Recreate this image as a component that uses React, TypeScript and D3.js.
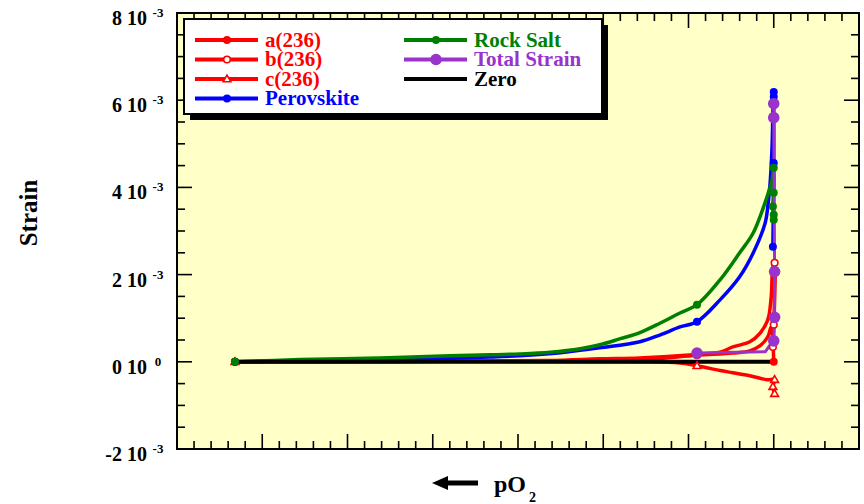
import React from "react";
import * as d3 from "d3";

// Values in units of 1e-3 strain; x in arbitrary pO2-axis units (0..8)
const aX = [0.68, 4.34, 5.43, 6.1, 6.52, 6.72, 6.84, 6.93, 6.97, 7.0];
const aY = [0, 0.02, 0.05, 0.15, 0.2, 0.25, 0.37, 0.57, 0.8, 0.0];
const aMarks = [0, 3, 9];

const bX = [0.68, 4.34, 4.96, 5.43, 6.1, 6.37, 6.52, 6.72, 6.84, 6.93, 6.97, 6.99, 7.01, 7.0, 6.99];
const bY = [0, 0.03, 0.07, 0.09, 0.17, 0.22, 0.34, 0.46, 0.66, 0.96, 1.49, 2.18, 2.27, 0.85, 0.34];
const bMarks = [0, 4, 12, 13, 14];

const cX = [0.68, 5.5, 5.9, 6.1, 6.37, 6.52, 6.72, 6.92, 7.01, 6.99, 7.01];
const cY = [0, 0, -0.03, -0.09, -0.2, -0.25, -0.32, -0.41, -0.41, -0.57, -0.73];
const cMarks = [0, 3, 8, 9, 10];

const pvX = [0.68, 2.97, 3.67, 4.02, 4.5, 4.96, 5.43, 5.67, 5.9, 6.1, 6.37, 6.6, 6.76, 6.9, 6.93, 6.96, 6.98, 6.99, 7.0, 7.0, 7.0, 6.99];
const pvY = [0, 0.07, 0.11, 0.14, 0.21, 0.32, 0.46, 0.62, 0.8, 0.92, 1.42, 1.95, 2.5, 3.19, 3.56, 4.17, 4.93, 5.71, 6.19, 6.08, 4.56, 2.64];
const pvMarks = [0, 9, 18, 19, 20, 21];

const rsX = [0.68, 1.44, 2.38, 3.2, 3.67, 4.02, 4.38, 4.73, 4.96, 5.2, 5.43, 5.67, 5.9, 6.1, 6.37, 6.6, 6.76, 6.92, 6.98, 7.0, 7.0, 6.99, 7.0, 7.0];
const rsY = [0, 0.05, 0.085, 0.14, 0.16, 0.18, 0.22, 0.3, 0.39, 0.53, 0.67, 0.89, 1.12, 1.31, 1.88, 2.5, 2.96, 3.78, 4.17, 4.45, 3.88, 3.56, 3.37, 3.26];
const rsMarks = [0, 13, 19, 20, 21, 22, 23];

const tsX = [6.1, 6.9, 6.98, 7.0, 7.01, 7.01, 7.0, 7.0];
const tsY = [0.2, 0.23, 0.45, 0.48, 1.02, 2.07, 5.6, 5.92];
const tsMarks = [0, 3, 4, 5, 6, 7];

const zeroX = [0.68, 7.0];
const zeroY = [0, 0];

const yMajor = [-2, 0, 2, 4, 6, 8];
const yMant = ["-2", "0", "2", "4", "6", "8"];
const yExp = ["-3", "0", "-3", "-3", "-3", "-3"];

const RED = "#ff0000";
const GREEN = "#008000";
const BLUE = "#0000ff";
const PURPLE = "#9933cc";
const FONT = "'Liberation Serif', 'Times New Roman', serif";

const L = 177, R = 859, T = 13, B = 449;

export default function App() {
  const x = d3.scaleLinear().domain([0, 8]).range([L, R]);
  const y = d3.scaleLinear().domain([-2, 8]).range([B, T]);
  const smooth = d3
    .line<[number, number]>()
    .x((d) => x(d[0]))
    .y((d) => y(d[1]))
    .curve(d3.curveCatmullRom.alpha(0.5));
  const straight = d3.line<[number, number]>().x((d) => x(d[0])).y((d) => y(d[1]));
  const pts = (xs: number[], ys: number[]) => xs.map((v, i) => [v, ys[i]] as [number, number]);

  const series = [
    { key: "a", xs: aX, ys: aY, marks: aMarks, color: RED, w: 3.5, m: "dot", sm: true },
    { key: "b", xs: bX, ys: bY, marks: bMarks, color: RED, w: 3.5, m: "open", sm: true },
    { key: "c", xs: cX, ys: cY, marks: cMarks, color: RED, w: 3.5, m: "tri", sm: true },
    { key: "pv", xs: pvX, ys: pvY, marks: pvMarks, color: BLUE, w: 3.5, m: "dot", sm: true },
    { key: "rs", xs: rsX, ys: rsY, marks: rsMarks, color: GREEN, w: 3.5, m: "dot", sm: true },
    { key: "zero", xs: zeroX, ys: zeroY, marks: [] as number[], color: "#000", w: 4, m: "none", sm: false },
    { key: "ts", xs: tsX, ys: tsY, marks: tsMarks, color: PURPLE, w: 3, m: "big", sm: false },
  ];

  const marker = (kind: string, cx: number, cy: number, color: string, k: string) => {
    if (kind === "dot") return <circle key={k} cx={cx} cy={cy} r={4} fill={color} />;
    if (kind === "big") return <circle key={k} cx={cx} cy={cy} r={5.8} fill={color} />;
    if (kind === "open")
      return <circle key={k} cx={cx} cy={cy} r={3.3} fill="#fff" stroke={color} strokeWidth={1.6} />;
    if (kind === "tri")
      return (
        <path
          key={k}
          d={d3.symbol().type(d3.symbolTriangle).size(26)() || ""}
          transform={`translate(${cx},${cy + 0.5})`}
          fill="#fff"
          stroke={color}
          strokeWidth={1.6}
        />
      );
    return null;
  };

  const yMinor = d3.range(-2, 8.001, 0.5);
  const xMinor = d3.range(0, 8.001, 0.2);
  const xMajor = d3.range(0, 8.001, 1);

  const legendRows = [
    { label: "a(236)", color: RED, m: "dot", col: 0, row: 0 },
    { label: "b(236)", color: RED, m: "open", col: 0, row: 1 },
    { label: "c(236)", color: RED, m: "tri", col: 0, row: 2 },
    { label: "Perovskite", color: BLUE, m: "dot", col: 0, row: 3 },
    { label: "Rock Salt", color: GREEN, m: "dot", col: 1, row: 0 },
    { label: "Total Strain", color: PURPLE, m: "big", col: 1, row: 1 },
    { label: "Zero", color: "#000", m: "none", col: 1, row: 2 },
  ];
  const colX = [195, 404];
  const rowY = [40, 59.5, 79, 98.5];

  return (
    <svg
      width={864}
      height={504}
      style={{ position: "absolute", left: 0, top: 0, background: "#fff" }}
      fontFamily={FONT}
      fontWeight="bold"
    >
      <rect x={L} y={T} width={R - L} height={B - T} fill="#ffffc8" />

      {/* ticks */}
      {yMinor.map((v, i) => {
        const major = Math.abs(v % 2) < 1e-6;
        const len = major ? 15 : 8;
        return (
          <g key={"yt" + i} stroke="#000" strokeWidth={1.6}>
            <line x1={L} x2={L + len} y1={y(v)} y2={y(v)} />
            <line x1={R} x2={R - len} y1={y(v)} y2={y(v)} />
          </g>
        );
      })}
      {xMinor.map((v, i) => {
        const major = xMajor.some((m) => Math.abs(m - v) < 1e-6);
        const len = major ? 15 : 8;
        return (
          <g key={"xt" + i} stroke="#000" strokeWidth={1.6}>
            <line x1={x(v)} x2={x(v)} y1={B} y2={B - len} />
            <line x1={x(v)} x2={x(v)} y1={T} y2={T + len} />
          </g>
        );
      })}

      {/* lines */}
      {series.map((s) => (
        <path
          key={"l" + s.key}
          d={(s.sm ? smooth : straight)(pts(s.xs, s.ys)) || ""}
          fill="none"
          stroke={s.color}
          strokeWidth={s.w}
          strokeLinejoin="round"
          strokeLinecap="round"
        />
      ))}
      {/* markers */}
      {series.map((s) =>
        s.marks.map((i) => marker(s.m, x(s.xs[i]), y(s.ys[i]), s.color, s.key + "m" + i))
      )}

      <rect x={L} y={T} width={R - L} height={B - T} fill="none" stroke="#000" strokeWidth={2} />

      {/* legend */}
      <rect x={190} y={25} width={418} height={95} fill="#000" />
      <rect x={184} y={19} width={418} height={95} fill="#fff" stroke="#000" strokeWidth={2} />
      {legendRows.map((r, i) => {
        const x0 = colX[r.col];
        const yy = rowY[r.row];
        return (
          <g key={"lg" + i}>
            <line x1={x0} x2={x0 + 63} y1={yy} y2={yy} stroke={r.color} strokeWidth={4} />
            {marker(r.m, x0 + 32, yy, r.color, "lm" + i)}
            <text x={x0 + 70} y={yy + 6.5} fontSize={21} fill={r.color}>
              {r.label}
            </text>
          </g>
        );
      })}

      {/* y tick labels */}
      {yMajor.map((v, i) => (
        <g key={"yl" + i}>
          <text x={147} y={y(v) + 12} fontSize={20} textAnchor="end" fill="#000">
            {yMant[i]} 10
          </text>
          <text x={158} y={y(v) + 4} fontSize={13} textAnchor="middle" fill="#000">
            {yExp[i]}
          </text>
        </g>
      ))}

      {/* axis titles */}
      <text
        transform="translate(28,213) rotate(-90)"
        fontSize={25}
        textAnchor="middle"
        dominantBaseline="central"
        fill="#000"
      >
        Strain
      </text>
      <line x1={445} x2={478} y1={483} y2={483} stroke="#000" strokeWidth={5} />
      <path d="M432,483 L448,476 L448,490 Z" fill="#000" />
      <text x={494} y={492} fontSize={24} fill="#000">
        pO
      </text>
      <text x={529} y={502} fontSize={14} fill="#000">
        2
      </text>
    </svg>
  );
}
